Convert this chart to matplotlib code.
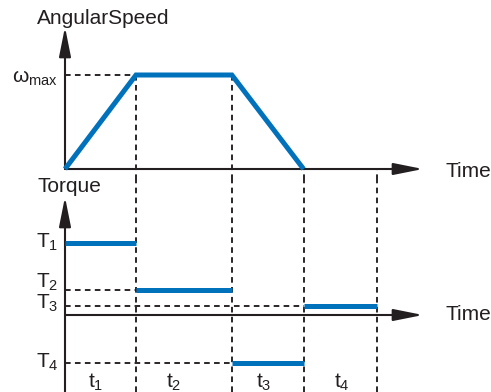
import numpy as np
import matplotlib
matplotlib.use("Agg")
import matplotlib.pyplot as plt

plt.rcParams["font.family"] = ["Liberation Sans", "DejaVu Sans"]
plt.rcParams["mathtext.fontset"] = "custom"
plt.rcParams["mathtext.rm"] = "Liberation Sans"
plt.rcParams["mathtext.it"] = "Liberation Sans"

# phase durations t1..t4 (arbitrary time units)
durations = [1.0, 1.35, 1.01, 1.03]
# angular speed at start of each phase and end of t3 (normalised to omega_max)
speed = [0.0, 1.0, 1.0, 0.0]
# torque level during each phase
torque = [1.0, 0.35, -0.67, 0.12]
phase_labels = ["t_1", "t_2", "t_3", "t_4"]

BLUE = "#0072bc"
W, H = 491, 392


def fpos(x, y):
    return x / W, 1 - y / H


edges = np.concatenate([[0.0], np.cumsum(durations)])

fig = plt.figure(figsize=(W / 100, H / 100), dpi=100)
ax_top = fig.add_axes([0, 1 - 180 / H, 1, 180 / H])
ax_bot = fig.add_axes([0, 0, 1, 212 / H])
for ax in (ax_top, ax_bot):
    ax.set_axis_off()
    ax.set_xlim(-65 / 71, 426 / 71)
ax_top.set_ylim(-11 / 94, 169 / 94)
ax_bot.set_ylim(-77 / 72, 135 / 72)

arrow = dict(arrowstyle="-|>,head_length=18,head_width=3.6", mutation_scale=1,
             color="#231f20", lw=1.5, shrinkA=0, shrinkB=0)
dash = dict(colors="#231f20", linestyles=(0, (3.0, 2.3)), linewidth=1.35)

# top panel: angular speed
t_tip = (423 - 65) / 71
ax_top.annotate("", xy=(t_tip, 0), xytext=(0, 0), arrowprops=arrow)
ax_top.annotate("", xy=(0, (169 - 27) / 94), xytext=(0, 0), arrowprops=arrow)
ax_top.hlines(speed[1], 0, edges[1], **dash)
ylo_top = ax_top.get_ylim()[0]
ax_top.vlines(edges[1:3], ylo_top, speed[1:3], **dash)
ax_top.vlines(edges[3:5], ylo_top, 0, **dash)
ax_top.plot(edges[:4], speed, color=BLUE, lw=3.6, solid_capstyle="butt",
            solid_joinstyle="miter", zorder=3)

# bottom panel: torque
ylo, yhi = ax_bot.get_ylim()
ax_bot.annotate("", xy=(t_tip, 0), xytext=(0, 0), arrowprops=arrow)
ax_bot.annotate("", xy=(0, (315 - 197) / 72), xytext=(0, ylo), arrowprops=arrow)
ax_bot.vlines(edges[1:], ylo, yhi, **dash)
for i in range(1, 4):
    ax_bot.hlines(torque[i], 0, edges[i], **dash)
ax_bot.hlines(torque, edges[:-1], edges[1:], colors=BLUE, lw=3.6, zorder=3)

# text
txt = dict(fontsize=15, color="#231f20", va="baseline", ha="left")
fig.text(*fpos(37, 24), "AngularSpeed", **txt)
fig.text(*fpos(37, 192), "Torque", **txt)
fig.text(*fpos(445, 177), "Time", **txt)
fig.text(*fpos(445, 320), "Time", **txt)
fig.text(*fpos(12, 83), r"$\mathregular{ω_{max}}$", **txt)
for lab, yb in zip(["T_1", "T_2", "T_3", "T_4"], [248, 288, 309, 368]):
    fig.text(*fpos(36, yb), r"$\mathregular{%s}$" % lab, **txt)
for lab, xl in zip(phase_labels, [88, 166, 256, 334]):
    fig.text(*fpos(xl, 388), r"$\mathregular{%s}$" % lab, **txt)

fig.savefig("out.png", dpi=100)
